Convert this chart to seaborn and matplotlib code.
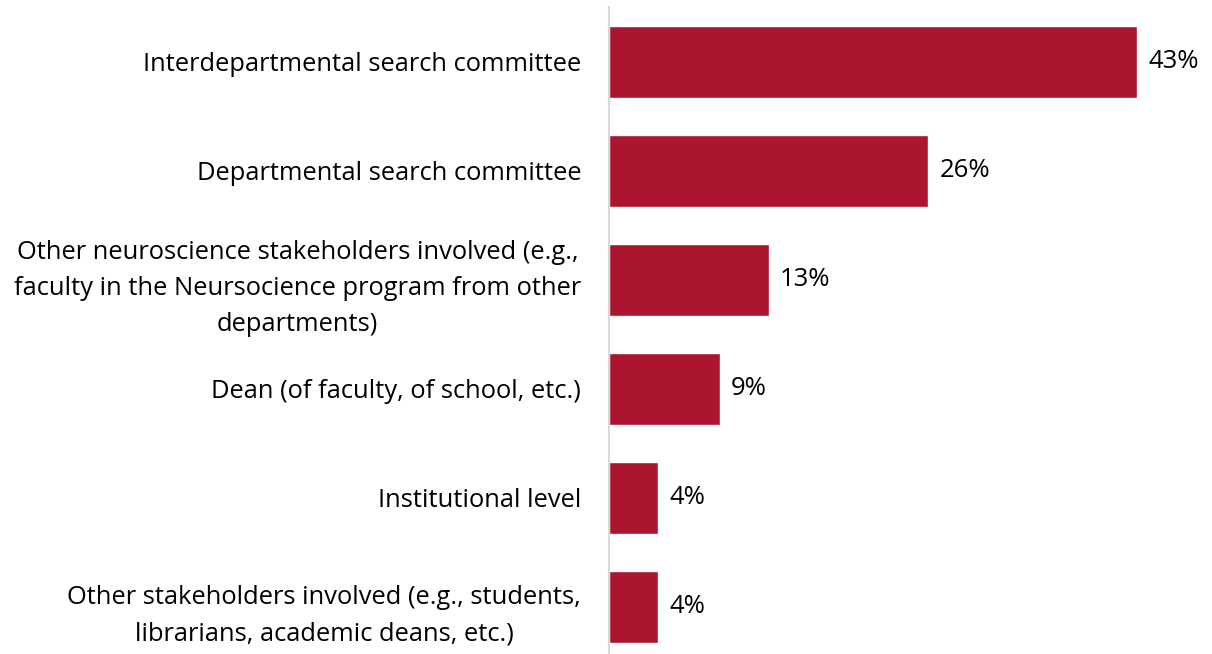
import matplotlib
matplotlib.use("Agg")
import matplotlib.pyplot as plt
import seaborn as sns
import pandas as pd

categories = [
    "Interdepartmental search committee",
    "Departmental search committee",
    "Other neuroscience stakeholders involved (e.g.,\nfaculty in the Neursocience program from other\ndepartments)",
    "Dean (of faculty, of school, etc.)",
    "Institutional level",
    "Other stakeholders involved (e.g., students,\nlibrarians, academic deans, etc.)",
]
values = [43, 26, 13, 9, 4, 4]

df = pd.DataFrame({"category": categories, "value": values})

sns.set_theme(style="white")
plt.rcParams["font.family"] = ["Open Sans", "DejaVu Sans"]

W, H = 1212, 654
fig = plt.figure(figsize=(W / 100, H / 100), dpi=100)
ax_left = 609 / W
ax_top = 7.5 / H
ax = fig.add_axes([ax_left, 0, 1 - ax_left, 1 - ax_top])

bar_color = "#AB1530"
sns.barplot(data=df, x="value", y="category", color=bar_color, width=0.66,
            saturation=1, ax=ax, orient="h")

ax.set_xlim(0, (W - 609) / 12.28)
ax.set_ylim(5 + (654 - 607) / 109, -0.5)

for i, v in enumerate(values):
    ax.text(v + 0.9, i, f"{v}%", va="center", ha="left", fontsize=18.5, color="#000000")

ax.set_xlabel("")
ax.set_ylabel("")
ax.set_xticks([])
ax.tick_params(axis="y", length=0, pad=20, labelsize=18.4, labelcolor="#000000")
for lbl in ax.get_yticklabels():
    lbl.set_linespacing(1.58)
    lbl.set_multialignment("center")
for side in ["top", "right", "bottom"]:
    ax.spines[side].set_visible(False)
ax.spines["left"].set_color("#D9D9D9")
ax.spines["left"].set_linewidth(1.5)

fig.savefig("out.png", dpi=100)
